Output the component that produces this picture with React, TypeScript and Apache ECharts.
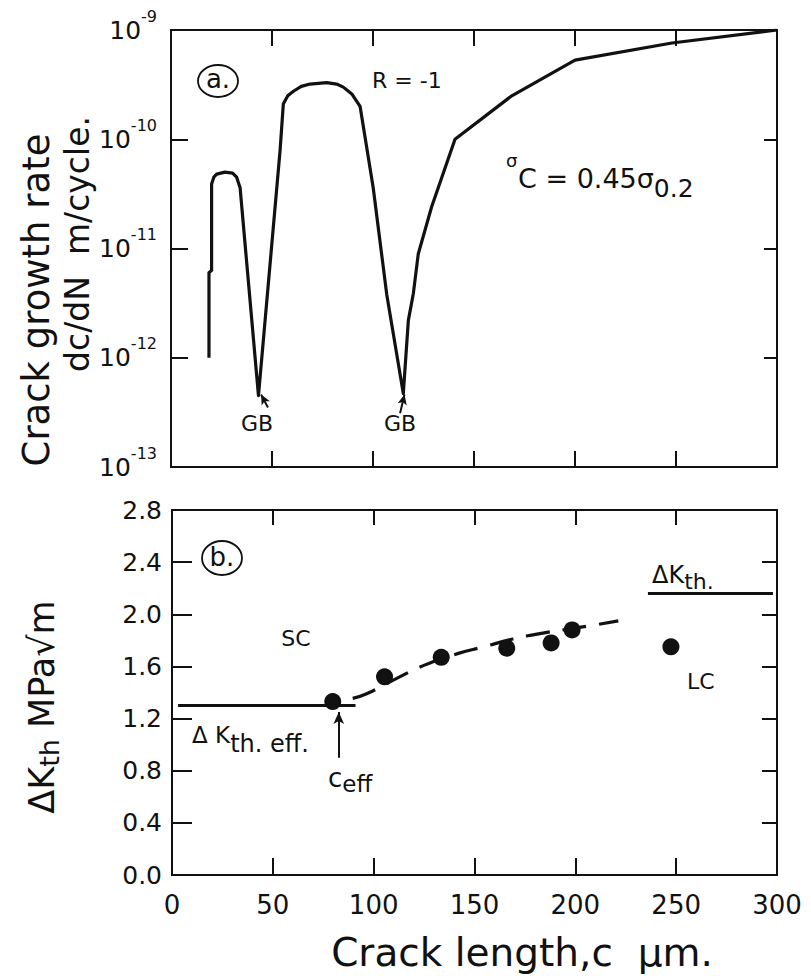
import React, { useEffect, useRef } from "react";
import * as echarts from "echarts";

// ---------- Panel (a): crack growth rate vs crack length ----------
const rateC = [18.8, 18.8, 20.1, 20.1, 21.2, 22.6, 26.7, 30.5, 32.5, 34.2, 43.3, 54.0, 55.6, 57.8, 60.6, 64.5, 68.8, 77.1, 82.0, 85.3, 89.5, 93.6, 100.1, 106.8, 115.0, 117.5, 120.0, 122.4, 129.0, 140.6, 168.7, 200.0, 248.0, 300.0];
const rateVal = [1.0e-12, 6.0e-12, 6.3e-12, 3.9e-11, 4.5e-11, 4.8e-11, 5.0e-11, 4.9e-11, 4.5e-11, 3.6e-11, 4.5e-13, 7.9e-11, 2.1e-10, 2.5e-10, 2.75e-10, 3.05e-10, 3.2e-10, 3.3e-10, 3.2e-10, 3.0e-10, 2.6e-10, 2.0e-10, 3.6e-11, 3.8e-12, 4.7e-13, 2.2e-12, 3.9e-12, 8.9e-12, 2.4e-11, 1.0e-10, 2.5e-10, 5.3e-10, 7.6e-10, 1.0e-9];
// GB arrows: [tailC, tailRate, headC, headRate]
const gbArrow1 = [48.0, 3.5e-13, 44.6, 4.6e-13];
const gbArrow2 = [113.4, 3.1e-13, 115.6, 4.6e-13];

// ---------- Panel (b): threshold vs crack length ----------
const scC = [79.7, 105.4, 133.5, 166.0, 188.0, 198.4];
const scVal = [1.33, 1.52, 1.67, 1.74, 1.78, 1.88];
const lcC = [247.4];
const lcVal = [1.75];
const trendC = [89.6, 96.5, 112.9, 125.2, 142.0, 154.5, 169.0, 181.7, 206.4, 221.3];
const trendVal = [1.355, 1.39, 1.52, 1.61, 1.70, 1.75, 1.81, 1.85, 1.91, 1.95];
const effC = [3, 91];
const effVal = [1.30, 1.30];
const thC = [236, 298];
const thVal = [2.16, 2.16];
const ceffArrow = [82.7, 0.90, 82.7, 1.25];

// ---------- axes ----------
const xRange = [0, 300, 50];
const rateRange = [1e-13, 1e-9];
const kRange = [0, 2.8, 0.4];
const xTickVals = [50, 100, 150, 200, 250];
const rateTickVals = [1e-12, 1e-11, 1e-10];
const kTickVals = [0.4, 0.8, 1.2, 1.6, 2.0, 2.4];

const INK = "#111";
const FONT = "DejaVu Sans";

// grid boxes (pixels)
const G0 = { left: 171, top: 30, width: 606, height: 437 };
const G1 = { left: 172, top: 510, width: 605, height: 365 };

const pairs = (xs: number[], ys: number[]) => xs.map((x, i) => [x, ys[i]]);

// inward tick marks as mark lines; pixel lengths converted to data offsets from the grid sizes
function logPanelTicks() {
  const xPerPx = (xRange[1] - xRange[0]) / G0.width;
  const decades = Math.log10(rateRange[1]) - Math.log10(rateRange[0]);
  const decPerPx = decades / G0.height;
  const seg = (a: number[], b: number[]) => [{ coord: a, symbol: "none" }, { coord: b, symbol: "none" }];
  const out: any[] = [];
  xTickVals.forEach((v) => {
    out.push(seg([v, rateRange[0]], [v, rateRange[0] * Math.pow(10, 16 * decPerPx)]));
    out.push(seg([v, rateRange[1]], [v, rateRange[1] / Math.pow(10, 16 * decPerPx)]));
  });
  rateTickVals.forEach((v) => {
    out.push(seg([xRange[0], v], [xRange[0] + 17 * xPerPx, v]));
    out.push(seg([xRange[1], v], [xRange[1] - 13 * xPerPx, v]));
  });
  return out;
}

function linPanelTicks() {
  const xPerPx = (xRange[1] - xRange[0]) / G1.width;
  const yPerPx = (kRange[1] - kRange[0]) / G1.height;
  const seg = (a: number[], b: number[]) => [{ coord: a, symbol: "none" }, { coord: b, symbol: "none" }];
  const out: any[] = [];
  xTickVals.forEach((v) => {
    out.push(seg([v, kRange[0]], [v, kRange[0] + 17 * yPerPx]));
    out.push(seg([v, kRange[1]], [v, kRange[1] - 15 * yPerPx]));
  });
  kTickVals.forEach((v) => {
    out.push(seg([xRange[0], v], [xRange[0] + 20 * xPerPx, v]));
    out.push(seg([xRange[1], v], [xRange[1] - 15 * xPerPx, v]));
  });
  return out;
}

function buildOption() {
  const base = { axisLine: { show: true, onZero: false, lineStyle: { color: INK, width: 2 } }, splitLine: { show: false }, axisTick: { show: false } };
  const xCommon = { type: "value", min: xRange[0], max: xRange[1], interval: xRange[2], ...base };
  return {
    animation: false,
    backgroundColor: "#fff",
    textStyle: { fontFamily: FONT, color: INK },
    grid: [
      { ...G0, show: true, borderColor: INK, borderWidth: 2, backgroundColor: "transparent" },
      { ...G1, show: true, borderColor: INK, borderWidth: 2, backgroundColor: "transparent" },
    ],
    xAxis: [
      { ...xCommon, gridIndex: 0, position: "bottom", axisLabel: { show: false } },
      { ...xCommon, gridIndex: 1, position: "bottom", axisLabel: { show: true, fontSize: 26, color: INK, fontFamily: FONT, margin: 17 } },
    ],
    yAxis: [
      {
        type: "log", logBase: 10, min: rateRange[0], max: rateRange[1], splitNumber: 4, gridIndex: 0, position: "left", ...base,
        minorTick: { show: false },
        axisLabel: {
          show: true, margin: 14, color: INK, fontFamily: FONT,
          formatter: (v: number) => `{a|10}{b|${Math.round(Math.log10(v))}}`,
          rich: {
            a: { fontSize: 25, fontFamily: FONT, color: INK },
            b: { fontSize: 16, fontFamily: FONT, color: INK, padding: [0, 0, 28, 0] },
          },
        },
      },
      {
        type: "value", min: kRange[0], max: kRange[1], interval: kRange[2], gridIndex: 1, position: "left", ...base,
        axisLabel: { show: true, fontSize: 25, color: INK, fontFamily: FONT, margin: 10, formatter: (v: number) => v.toFixed(1) },
      },
    ],
    series: [
      {
        type: "line", xAxisIndex: 0, yAxisIndex: 0, data: pairs(rateC, rateVal), showSymbol: false, symbol: "none",
        lineStyle: { color: INK, width: 3.2, join: "round" }, silent: true,
        markLine: {
          silent: true, symbol: ["none", "arrow"], symbolSize: [7, 10], label: { show: false },
          lineStyle: { color: INK, width: 2, type: "solid" },
          data: [
            [{ coord: [gbArrow1[0], gbArrow1[1]] }, { coord: [gbArrow1[2], gbArrow1[3]] }],
            [{ coord: [gbArrow2[0], gbArrow2[1]] }, { coord: [gbArrow2[2], gbArrow2[3]] }],
            ...logPanelTicks(),
          ],
        },
      },
      {
        type: "line", xAxisIndex: 1, yAxisIndex: 1, data: pairs(trendC, trendVal), showSymbol: false, symbol: "none", smooth: true,
        lineStyle: { color: INK, width: 3.2, type: [24, 13] }, silent: true,
      },
      {
        type: "line", xAxisIndex: 1, yAxisIndex: 1, data: pairs(effC, effVal), showSymbol: false, symbol: "none",
        lineStyle: { color: INK, width: 3 }, silent: true,
        markLine: {
          silent: true, symbol: ["none", "arrow"], symbolSize: [8, 12], label: { show: false },
          lineStyle: { color: INK, width: 2, type: "solid" },
          data: [[{ coord: [ceffArrow[0], ceffArrow[1]] }, { coord: [ceffArrow[2], ceffArrow[3]] }]],
        },
      },
      {
        type: "line", xAxisIndex: 1, yAxisIndex: 1, data: pairs(thC, thVal), showSymbol: false, symbol: "none",
        lineStyle: { color: INK, width: 3 }, silent: true,
        markLine: {
          silent: true, symbol: ["none", "none"], label: { show: false },
          lineStyle: { color: INK, width: 2, type: "solid" },
          data: linPanelTicks(),
        },
      },
      {
        type: "scatter", xAxisIndex: 1, yAxisIndex: 1, data: pairs(scC, scVal), symbolSize: 17,
        itemStyle: { color: INK, opacity: 1 }, silent: true,
      },
      {
        type: "scatter", xAxisIndex: 1, yAxisIndex: 1, data: pairs(lcC, lcVal), symbolSize: 17,
        itemStyle: { color: INK, opacity: 1 }, silent: true,
      },
    ],
    graphic: [
      // y-axis titles
      { type: "text", x: 36, y: 300, rotation: Math.PI / 2, style: { text: "Crack growth rate", fontSize: 37, fontFamily: FONT, fill: INK, align: "center", verticalAlign: "middle" } },
      { type: "text", x: 77, y: 244, rotation: Math.PI / 2, style: { text: "dc/dN  m/cycle.", fontSize: 33, fontFamily: FONT, fill: INK, align: "center", verticalAlign: "middle" } },
      {
        type: "text", x: 42, y: 707, rotation: Math.PI / 2,
        style: {
          text: "{a|ΔK}{s|th}{a| MPa√m}", align: "center", verticalAlign: "middle", fill: INK,
          rich: {
            a: { fontSize: 35, fontFamily: FONT, fill: INK, color: INK },
            s: { fontSize: 27, fontFamily: FONT, fill: INK, color: INK, padding: [14, 0, 0, 0] },
          },
        },
      },
      // x-axis title
      { type: "text", x: 522, y: 952, style: { text: "Crack length,c  μm.", fontSize: 39, fontFamily: FONT, fill: INK, align: "center", verticalAlign: "middle" } },
      // panel (a) annotations
      { type: "ellipse", shape: { cx: 218, cy: 81, rx: 20, ry: 16 }, style: { fill: "none", stroke: INK, lineWidth: 1.8 } },
      { type: "text", x: 218, y: 79, style: { text: "a.", fontSize: 26, fontFamily: FONT, fill: INK, align: "center", verticalAlign: "middle" } },
      { type: "text", x: 372, y: 80, style: { text: "R = -1", fontSize: 22, fontFamily: FONT, fill: INK, align: "left", verticalAlign: "middle" } },
      { type: "text", x: 506, y: 160, style: { text: "σ", fontSize: 18, fontFamily: FONT, fill: INK, align: "left", verticalAlign: "middle" } },
      {
        type: "text", x: 518, y: 178,
        style: {
          text: "{m|C = 0.45σ}{s|0.2}", align: "left", verticalAlign: "middle", fill: INK,
          rich: {
            m: { fontSize: 27, fontFamily: FONT, fill: INK, color: INK },
            s: { fontSize: 25, fontFamily: FONT, fill: INK, color: INK, padding: [20, 0, 0, 0] },
          },
        },
      },
      { type: "text", x: 257, y: 423, style: { text: "GB", fontSize: 22, fontFamily: FONT, fill: INK, align: "center", verticalAlign: "middle" } },
      { type: "text", x: 400, y: 423, style: { text: "GB", fontSize: 22, fontFamily: FONT, fill: INK, align: "center", verticalAlign: "middle" } },
      // panel (b) annotations
      { type: "ellipse", shape: { cx: 222, cy: 558, rx: 20, ry: 17 }, style: { fill: "none", stroke: INK, lineWidth: 1.8 } },
      { type: "text", x: 222, y: 557, style: { text: "b.", fontSize: 26, fontFamily: FONT, fill: INK, align: "center", verticalAlign: "middle" } },
      { type: "text", x: 296, y: 638, style: { text: "SC", fontSize: 22, fontFamily: FONT, fill: INK, align: "center", verticalAlign: "middle" } },
      {
        type: "text", x: 192, y: 735,
        style: {
          text: "{a|Δ K}{s|th. eff.}", align: "left", verticalAlign: "middle", fill: INK,
          rich: {
            a: { fontSize: 23, fontFamily: FONT, fill: INK, color: INK },
            s: { fontSize: 24, fontFamily: FONT, fill: INK, color: INK, padding: [18, 0, 0, 0] },
          },
        },
      },
      {
        type: "text", x: 328, y: 778,
        style: {
          text: "{a|c}{s|eff}", align: "left", verticalAlign: "middle", fill: INK,
          rich: {
            a: { fontSize: 26, fontFamily: FONT, fill: INK, color: INK },
            s: { fontSize: 23, fontFamily: FONT, fill: INK, color: INK, padding: [12, 0, 0, 0] },
          },
        },
      },
      {
        type: "text", x: 652, y: 575,
        style: {
          text: "{a|ΔK}{s|th.}", align: "left", verticalAlign: "middle", fill: INK,
          rich: {
            a: { fontSize: 24, fontFamily: FONT, fill: INK, color: INK },
            s: { fontSize: 22, fontFamily: FONT, fill: INK, color: INK, padding: [12, 0, 0, 0] },
          },
        },
      },
      { type: "text", x: 687, y: 681, style: { text: "LC", fontSize: 22, fontFamily: FONT, fill: INK, align: "left", verticalAlign: "middle" } },
    ],
  };
}

export default function App() {
  const ref = useRef<HTMLDivElement>(null);
  useEffect(() => {
    const chart = echarts.init(ref.current as HTMLDivElement, null, { renderer: "svg" });
    chart.setOption(buildOption() as any);
    return () => chart.dispose();
  }, []);
  return (
    <div
      ref={ref}
      style={{ position: "absolute", left: 0, top: 0, width: 811, height: 976, background: "#fff" }}
    />
  );
}
